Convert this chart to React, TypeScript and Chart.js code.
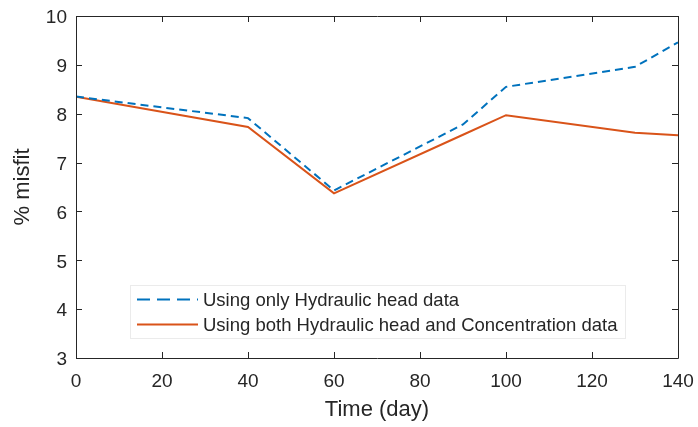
import React, { useEffect, useRef } from "react";
import { Chart, registerables } from "chart.js";

Chart.register(...registerables);

const days = [0, 40, 60, 90, 100, 130, 140];
const headOnly = [8.35, 7.91, 6.43, 7.78, 8.55, 8.96, 9.46];
const headAndConc = [8.35, 7.73, 6.37, 7.57, 7.97, 7.61, 7.56];
const seriesLabels = [
  "Using only Hydraulic head data",
  "Using both Hydraulic head and Concentration data",
];
const xTicks = [0, 20, 40, 60, 80, 100, 120, 140];
const yTicks = [3, 4, 5, 6, 7, 8, 9, 10];

const AXIS = "#262626";
const FONT = "'Liberation Sans', Arial, Helvetica, sans-serif";

const boxPlugin = {
  id: "matlabBox",
  afterDraw(chart: any) {
    const { ctx, chartArea: a, scales } = chart;
    const x = scales.x;
    const y = scales.y;
    ctx.save();
    ctx.strokeStyle = AXIS;
    ctx.lineWidth = 1;
    ctx.beginPath();
    ctx.rect(Math.round(a.left) + 0.5, Math.round(a.top) + 0.5, Math.round(a.right - a.left), Math.round(a.bottom - a.top));
    ctx.stroke();
    const tl = 6;
    ctx.beginPath();
    xTicks.forEach((v) => {
      const px = Math.round(x.getPixelForValue(v)) + 0.5;
      ctx.moveTo(px, a.bottom);
      ctx.lineTo(px, a.bottom - tl);
      ctx.moveTo(px, a.top);
      ctx.lineTo(px, a.top + tl);
    });
    yTicks.forEach((v) => {
      const py = Math.round(y.getPixelForValue(v)) + 0.5;
      ctx.moveTo(a.left, py);
      ctx.lineTo(a.left + tl, py);
      ctx.moveTo(a.right, py);
      ctx.lineTo(a.right - tl, py);
    });
    ctx.stroke();

    // legend
    const bx = a.left + 54;
    const by = a.top + 269;
    const bw = 495;
    const bh = 53;
    ctx.fillStyle = "#ffffff";
    ctx.fillRect(bx, by, bw, bh);
    ctx.strokeStyle = "#ebebeb";
    ctx.lineWidth = 1;
    ctx.strokeRect(bx + 0.5, by + 0.5, bw, bh);
    ctx.font = `18.5px ${FONT}`;
    ctx.textBaseline = "middle";
    ctx.textAlign = "left";
    chart.data.datasets.forEach((ds: any, i: number) => {
      const ry = by + 14.5 + i * 25;
      ctx.strokeStyle = ds.borderColor;
      ctx.lineWidth = 2;
      ctx.setLineDash(ds.borderDash ? [13, 7] : []);
      ctx.beginPath();
      ctx.moveTo(bx + 7, ry);
      ctx.lineTo(bx + 68, ry);
      ctx.stroke();
      ctx.setLineDash([]);
      ctx.fillStyle = AXIS;
      ctx.fillText(ds.label, bx + 73, ry + 1);
    });
    ctx.restore();
  },
};

export default function App() {
  const ref = useRef<HTMLCanvasElement>(null);
  useEffect(() => {
    document.body.style.margin = "0";
    const chart = new Chart(ref.current as HTMLCanvasElement, {
      type: "line",
      data: {
        datasets: [
          {
            label: seriesLabels[0],
            data: days.map((d, i) => ({ x: d, y: headOnly[i] })),
            borderColor: "#0072BD",
            borderWidth: 2,
            borderDash: [8, 5],
            pointRadius: 0,
            fill: false,
            tension: 0,
          },
          {
            label: seriesLabels[1],
            data: days.map((d, i) => ({ x: d, y: headAndConc[i] })),
            borderColor: "#D95319",
            borderWidth: 2,
            pointRadius: 0,
            fill: false,
            tension: 0,
          },
        ],
      },
      options: {
        animation: false,
        responsive: false,
        devicePixelRatio: 1,
        layout: { padding: { top: 16, right: 20, left: 0, bottom: 0 } },
        plugins: { legend: { display: false }, tooltip: { enabled: false } },
        scales: {
          x: {
            type: "linear",
            min: 0,
            max: 140,
            afterFit: (s: any) => {
              s.height = 69;
              s.paddingLeft = 0;
              s.paddingRight = 0;
            },
            afterBuildTicks: (s: any) => {
              s.ticks = xTicks.map((v) => ({ value: v }));
            },
            grid: { display: false, drawTicks: false },
            border: { display: false },
            ticks: {
              padding: 12,
              color: AXIS,
              font: { size: 19, family: FONT },
              maxRotation: 0,
              autoSkip: false,
            },
            title: {
              display: true,
              text: "Time (day)",
              color: AXIS,
              font: { size: 22, family: FONT },
              padding: { top: 0, bottom: 4 },
            },
          },
          y: {
            type: "linear",
            min: 3,
            max: 10,
            afterFit: (s: any) => {
              s.width = 76;
              s.paddingTop = 0;
              s.paddingBottom = 0;
            },
            afterBuildTicks: (s: any) => {
              s.ticks = yTicks.map((v) => ({ value: v }));
            },
            grid: { display: false, drawTicks: false },
            border: { display: false },
            ticks: {
              padding: 9,
              color: AXIS,
              font: { size: 19, family: FONT },
              labelOffset: 2,
              autoSkip: false,
            },
            title: {
              display: true,
              text: "% misfit",
              color: AXIS,
              font: { size: 22, family: FONT },
              padding: { top: 10, bottom: 0 },
            },
          },
        },
      },
      plugins: [boxPlugin],
    });
    return () => chart.destroy();
  }, []);
  return (
    <div style={{ width: 698, height: 427 }}>
      <canvas ref={ref} width={698} height={427} style={{ display: "block" }} />
    </div>
  );
}
